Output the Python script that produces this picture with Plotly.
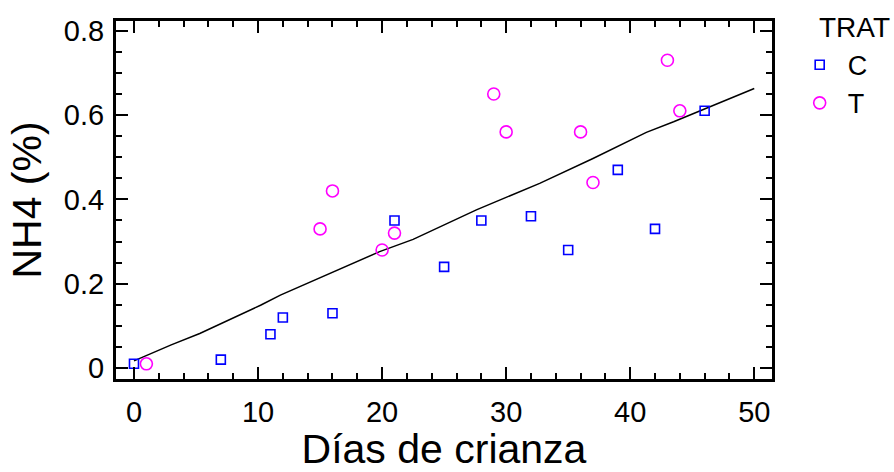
import plotly.graph_objects as go

# Data
c_dias = [0, 7, 11, 12, 16, 21, 25, 28, 32, 35, 39, 42, 46]
c_nh4 = [0.01, 0.02, 0.08, 0.12, 0.13, 0.35, 0.24, 0.35, 0.36, 0.28, 0.47, 0.33, 0.61]

t_dias = [1, 15, 16, 20, 21, 29, 30, 36, 37, 43, 44]
t_nh4 = [0.01, 0.33, 0.42, 0.28, 0.32, 0.65, 0.56, 0.56, 0.44, 0.73, 0.61]

fit_x = [0, 3, 5.3, 10.2, 11.8, 15.5, 19.8, 22.5, 27.6, 32.7, 37, 41.3, 43.5, 50]
fit_y = [0.017, 0.055, 0.082, 0.149, 0.173, 0.221, 0.276, 0.305, 0.375, 0.438, 0.497, 0.559, 0.584, 0.663]

FONT = "Liberation Sans, Arial, sans-serif"

fig = go.Figure()
fig.add_trace(go.Scatter(x=fit_x, y=fit_y, mode="lines", line=dict(color="black", width=1.5),
                         showlegend=False, hoverinfo="skip"))
fig.add_trace(go.Scatter(x=c_dias, y=c_nh4, mode="markers", name="C",
                         marker=dict(symbol="square-open", size=9, color="#0000FF", line=dict(width=1.6))))
fig.add_trace(go.Scatter(x=t_dias, y=t_nh4, mode="markers", name="T",
                         marker=dict(symbol="circle-open", size=12, color="#FF00FF", line=dict(width=1.6))))

axis_common = dict(showline=True, linecolor="black", linewidth=3, mirror="ticks",
                   ticks="inside", ticklen=12, tickwidth=2, tickcolor="black",
                   showgrid=False, zeroline=False, automargin=False,
                   tickfont=dict(family=FONT, size=29, color="black"))

fig.update_xaxes(range=[-1.45, 51.43], dtick=10, tick0=0, ticklabelstandoff=5,
                 minor=dict(ticks="inside", dtick=2, ticklen=6, tickwidth=1.5, tickcolor="black"),
                 title=dict(text="Días de crianza", font=dict(family=FONT, size=41, color="black"), standoff=16),
                 **axis_common)
fig.update_yaxes(range=[-0.026, 0.823], dtick=0.2, tick0=0, ticklabelstandoff=3,
                 minor=dict(ticks="inside", dtick=0.05, ticklen=6, tickwidth=1.5, tickcolor="black"),
                 title=dict(text="NH4 (%)", font=dict(family=FONT, size=41, color="black"), standoff=10),
                 **axis_common)

fig.add_annotation(text="TRAT", xref="paper", yref="paper", x=1.068, y=1.03, xanchor="left", yanchor="top",
                   showarrow=False, font=dict(family=FONT, size=28, color="black"))

fig.update_layout(
    width=894, height=472,
    margin=dict(l=116, r=122, t=21, b=93),
    paper_bgcolor="white", plot_bgcolor="white",
    showlegend=True,
    legend=dict(x=1.03, y=0.945, xanchor="left", yanchor="top",
                font=dict(family=FONT, size=27, color="black"),
                itemwidth=46, bgcolor="rgba(0,0,0,0)"),
)

fig.write_html("out.html")
